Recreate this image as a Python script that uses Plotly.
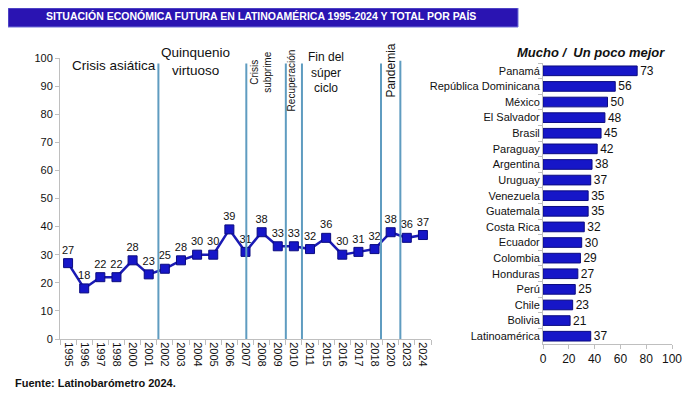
import plotly.graph_objects as go

# ---- data ----
years = ["1995", "1996", "1997", "1998", "2000", "2001", "2002", "2003", "2004", "2005",
         "2006", "2007", "2008", "2009", "2010", "2011", "2015", "2016", "2017", "2018",
         "2020", "2023", "2024"]
values = [27, 18, 22, 22, 28, 23, 25, 28, 30, 30, 39, 31, 38, 33, 33, 32, 36, 30, 31, 32,
          38, 36, 37]

countries = ["Panamá", "República Dominicana", "México", "El Salvador", "Brasil", "Paraguay",
             "Argentina", "Uruguay", "Venezuela", "Guatemala", "Costa Rica", "Ecuador",
             "Colombia", "Honduras", "Perú", "Chile", "Bolivia", "Latinoamérica"]
country_values = [73, 56, 50, 48, 45, 42, 38, 37, 35, 35, 32, 30, 29, 27, 25, 23, 21, 37]

# period separators (category index positions)
period_lines = [5.6, 11.05, 13.5, 14.5, 19.4, 20.6]
period_tops = [98, 98, 98, 98, 98, 99]

FONT = "Arial, 'Liberation Sans', sans-serif"
BLUE = "#1616c8"
W, H, OFF = 700, 396, 8  # page has an 8px body margin


def px(X):
    return (X - OFF) / W


def py(Y):
    return 1 - (Y - OFF) / H


fig = go.Figure()

fig.add_trace(go.Scatter(
    x=years, y=values, mode="lines+markers+text",
    text=[str(v) for v in values], textposition="top center",
    textfont=dict(size=11, color="#111", family=FONT),
    line=dict(color="#1a1ab4", width=2.5),
    marker=dict(symbol="square", size=9, color=BLUE, line=dict(color="#0b0b80", width=1)),
    cliponaxis=False, xaxis="x", yaxis="y", showlegend=False,
))

fig.add_trace(go.Bar(
    y=countries, x=country_values, orientation="h",
    text=[str(v) for v in country_values], textposition="outside",
    constraintext="none",
    textfont=dict(size=12, color="#111", family=FONT),
    marker=dict(color=BLUE, line=dict(color="#0b0b80", width=1)),
    width=0.62, cliponaxis=False, xaxis="x2", yaxis="y2", showlegend=False,
))

shapes = []
for xv, top in zip(period_lines, period_tops):
    shapes.append(dict(type="line", xref="x", yref="y", x0=xv, x1=xv, y0=0, y1=top,
                       line=dict(color="#5f9cc0", width=2)))
# title bar
shapes.append(dict(type="rect", xref="paper", yref="paper", x0=0, x1=px(518),
                   y0=py(27), y1=1, fillcolor="#2a14b2",
                   line=dict(color="#7070d8", width=1), layer="below"))

annotations = [
    dict(text="<b>SITUACIÓN ECONÓMICA FUTURA EN LATINOAMÉRICA 1995-2024 Y TOTAL POR PAÍS</b>",
         xref="paper", yref="paper", x=px(261), y=py(16), showarrow=False,
         font=dict(size=10.5, color="white", family=FONT), xanchor="center", yanchor="middle"),
    dict(text="Crisis asiática", xref="x", yref="y", x=2.85, y=97.5, showarrow=False,
         font=dict(size=13.5, color="#111", family=FONT)),
    dict(text="Quinquenio<br>virtuoso", xref="x", yref="y", x=7.9, y=98.6, showarrow=False,
         font=dict(size=13.5, color="#111", family=FONT)),
    dict(text="Crisis<br>subprime", xref="x", yref="y", x=11.95, y=95, showarrow=False,
         textangle=-90, font=dict(size=10, color="#111", family=FONT)),
    dict(text="Recuperación", xref="x", yref="y", x=13.85, y=92.2, showarrow=False,
         textangle=-90, font=dict(size=10, color="#111", family=FONT)),
    dict(text="Fin del<br>súper<br>ciclo", xref="x", yref="y", x=16.0, y=95, showarrow=False,
         font=dict(size=12, color="#111", family=FONT)),
    dict(text="Pandemia", xref="x", yref="y", x=20.05, y=95.7, showarrow=False,
         textangle=-90, font=dict(size=12, color="#111", family=FONT)),
    dict(text="<b><i>Mucho /  Un poco mejor</i></b>", xref="paper", yref="paper",
         x=px(591), y=py(52), xanchor="center", yanchor="middle", showarrow=False,
         font=dict(size=13, color="#111", family=FONT)),
    dict(text="<b>Fuente: Latinobarómetro 2024.</b>", xref="paper", yref="paper",
         x=px(13), y=py(383), xanchor="left", yanchor="middle", showarrow=False,
         font=dict(size=11, color="#111", family=FONT)),
]

fig.update_layout(
    width=W, height=H, margin=dict(l=0, r=0, t=0, b=0, autoexpand=False),
    paper_bgcolor="white", plot_bgcolor="rgba(0,0,0,0)",
    font=dict(family=FONT, color="#111"),
    shapes=shapes, annotations=annotations,
    xaxis=dict(domain=[px(60), px(431)], type="category", tickangle=90,
               showline=True, linecolor="#bfbfbf", linewidth=1,
               ticks="outside", tickson="boundaries", ticklen=5, tickcolor="#bfbfbf",
               showgrid=False, tickfont=dict(size=11, family=FONT, color="#111"),
               anchor="y", range=[-0.5, 22.5], automargin=False),
    yaxis=dict(domain=[py(339), py(58)], range=[0, 100], dtick=10,
               showline=True, linecolor="#bfbfbf", ticks="outside", ticklen=4,
               tickcolor="#bfbfbf", showgrid=False, zeroline=False,
               tickfont=dict(size=11, family=FONT, color="#111"), anchor="x",
               automargin=False),
    xaxis2=dict(domain=[px(543), px(672)], range=[0, 100], dtick=20,
                showline=True, linecolor="#bfbfbf", ticks="outside", ticklen=4,
                tickcolor="#bfbfbf", showgrid=False, zeroline=False,
                tickfont=dict(size=12, family=FONT, color="#111"), anchor="y2",
                automargin=False),
    yaxis2=dict(domain=[py(344), py(63)], type="category", autorange="reversed",
                showline=True, linecolor="#bfbfbf", ticks="outside", ticklen=4,
                tickcolor="#bfbfbf", tickson="boundaries",
                tickfont=dict(size=11, family=FONT, color="#111"), anchor="x2",
                automargin=False),
    bargap=0.38,
)

fig.write_html("out.html")
